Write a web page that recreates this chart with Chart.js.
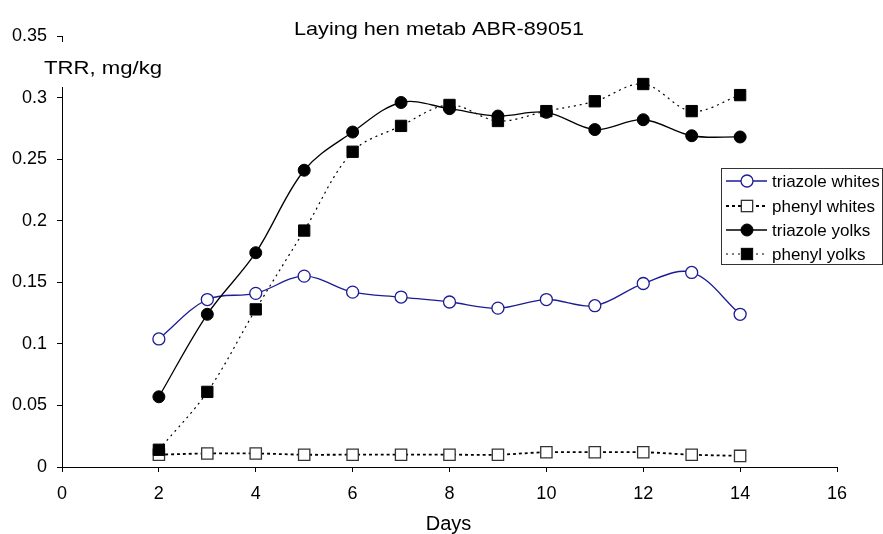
<!DOCTYPE html>
<html>
<head>
<meta charset="utf-8">
<style>
  html, body { margin: 0; padding: 0; background: #fff; }
  canvas { display: block; }
</style>
<script src="https://cdn.jsdelivr.net/npm/chart.js@4.4.1/dist/chart.umd.min.js"></script>
</head>
<body>
<canvas id="henChart" width="883" height="534"></canvas>
<script>
// days sampled
const days = [2, 3, 4, 5, 6, 7, 8, 9, 10, 11, 12, 13, 14];

// TRR, mg/kg
const triazoleWhites = [0.104, 0.136, 0.141, 0.155, 0.142, 0.138, 0.134, 0.129, 0.136, 0.131, 0.149, 0.158, 0.124];
const phenylWhites   = [0.010, 0.011, 0.011, 0.010, 0.010, 0.010, 0.010, 0.010, 0.012, 0.012, 0.012, 0.010, 0.009];
const triazoleYolks  = [0.057, 0.124, 0.174, 0.241, 0.272, 0.296, 0.291, 0.285, 0.288, 0.274, 0.282, 0.269, 0.268];
const phenylYolks    = [0.014, 0.061, 0.128, 0.192, 0.256, 0.277, 0.294, 0.281, 0.289, 0.297, 0.311, 0.289, 0.302];

const seriesNames = ['triazole whites', 'phenyl whites', 'triazole yolks', 'phenyl yolks'];
const xTicks = { min: 0, max: 16, step: 2 };
const yTicks = { min: 0, max: 0.35, step: 0.05 };

const FONT = "'Liberation Sans', Arial, Helvetica, sans-serif";
const NAVY = '#1c1c96';

function toPoints(vals) {
    return days.map((d, i) => ({ x: d, y: vals[i] }));
}

// text a bit wider than the font, like the original
function stretchText(ctx, text, x, y, size, sx, align) {
    ctx.save();
    ctx.font = size + 'px ' + FONT;
    ctx.fillStyle = '#000';
    ctx.textBaseline = 'alphabetic';
    ctx.textAlign = 'left';
    let w = ctx.measureText(text).width * sx;
    let left = align === 'center' ? x - w / 2 : x;
    ctx.translate(left, y);
    ctx.scale(sx, 1);
    ctx.fillText(text, 0, 0);
    ctx.restore();
}

function drawMarker(ctx, ds, x, y) {
    ctx.save();
    ctx.setLineDash([]);
    ctx.lineWidth = ds.pointBorderWidth;
    ctx.strokeStyle = ds.pointBorderColor;
    ctx.fillStyle = ds.pointBackgroundColor;
    if (ds.pointStyle === 'circle') {
        ctx.beginPath();
        ctx.arc(x, y, ds.pointRadius, 0, Math.PI * 2);
        ctx.fill();
        ctx.stroke();
    } else {
        let s = ds.pointRadius / Math.SQRT2;
        ctx.fillRect(x - s, y - s, 2 * s, 2 * s);
        ctx.strokeRect(x - s, y - s, 2 * s, 2 * s);
    }
    ctx.restore();
}

const decorations = {
    id: 'decorations',
    afterDraw(chart) {
        const ctx = chart.ctx;
        const area = chart.chartArea;

        // title
        stretchText(ctx, 'Laying hen metab ABR-89051', 439, 35, 18.5, 1.17, 'center');

        // gap in the y axis behind its title
        ctx.save();
        ctx.fillStyle = '#fff';
        ctx.fillRect(area.left - 3, 42, 7, 45);
        ctx.restore();
        stretchText(ctx, 'TRR, mg/kg', 44, 74, 18.6, 1.19, 'left');

        // x axis title
        stretchText(ctx, 'Days', 448.5, 530, 20, 1.0, 'center');

        // legend
        const bx = 721, by = 168, bw = 161, bh = 96;
        ctx.save();
        ctx.fillStyle = '#fff';
        ctx.fillRect(bx, by, bw, bh);
        ctx.strokeStyle = '#333';
        ctx.lineWidth = 1;
        ctx.strokeRect(bx + 0.5, by + 0.5, bw, bh);
        ctx.restore();

        const rows = [181, 206, 230, 254];
        chart.data.datasets.forEach((ds, i) => {
            let y = rows[i];
            ctx.save();
            ctx.strokeStyle = ds.borderColor;
            ctx.lineWidth = ds.borderWidth;
            ctx.setLineDash(ds.borderDash || []);
            ctx.beginPath();
            ctx.moveTo(726, y);
            ctx.lineTo(767, y);
            ctx.stroke();
            ctx.restore();
            drawMarker(ctx, ds, 747, y);

            ctx.save();
            ctx.font = '17px ' + FONT;
            ctx.fillStyle = '#000';
            ctx.textBaseline = 'middle';
            ctx.fillText(seriesNames[i], 772, y + 1);
            ctx.restore();
        });
    }
};

const ctxHen = document.getElementById('henChart');
new Chart(ctxHen, {
    type: 'line',
    data: {
        datasets: [
            {
                label: seriesNames[0],
                data: toPoints(triazoleWhites),
                borderColor: NAVY,
                borderWidth: 1.3,
                tension: 0.35,
                pointStyle: 'circle',
                pointRadius: 6,
                pointBorderWidth: 1.3,
                pointBorderColor: NAVY,
                pointBackgroundColor: '#fff',
                order: 3
            },
            {
                label: seriesNames[1],
                data: toPoints(phenylWhites),
                borderColor: '#000',
                borderWidth: 1.8,
                borderDash: [3, 3],
                tension: 0.35,
                pointStyle: 'rect',
                pointRadius: 8,
                pointBorderWidth: 1.3,
                pointBorderColor: '#333',
                pointBackgroundColor: '#fff',
                order: 2
            },
            {
                label: seriesNames[2],
                data: toPoints(triazoleYolks),
                borderColor: '#000',
                borderWidth: 1.3,
                tension: 0.35,
                pointStyle: 'circle',
                pointRadius: 6,
                pointBorderWidth: 1,
                pointBorderColor: '#000',
                pointBackgroundColor: '#000',
                order: 1
            },
            {
                label: seriesNames[3],
                data: toPoints(phenylYolks),
                borderColor: '#000',
                borderWidth: 1.2,
                borderDash: [2, 4],
                tension: 0.35,
                pointStyle: 'rect',
                pointRadius: 8,
                pointBorderWidth: 1,
                pointBorderColor: '#000',
                pointBackgroundColor: '#000',
                order: 0
            }
        ]
    },
    options: {
        responsive: false,
        animation: false,
        devicePixelRatio: 1,
        layout: { padding: { top: 36, right: 46, left: 0, bottom: 0 } },
        plugins: {
            legend: { display: false },
            title: { display: false },
            tooltip: { enabled: false }
        },
        scales: {
            x: {
                type: 'linear',
                min: xTicks.min,
                max: xTicks.max,
                ticks: {
                    stepSize: xTicks.step,
                    color: '#000',
                    font: { family: FONT, size: 18 },
                    padding: 11,
                    maxRotation: 0
                },
                grid: { drawOnChartArea: false, drawTicks: true, tickLength: 5, color: '#000' },
                border: { color: '#000', width: 1 },
                afterFit(scale) { scale.height = 67; }
            },
            y: {
                min: yTicks.min,
                max: yTicks.max,
                ticks: {
                    stepSize: yTicks.step,
                    color: '#000',
                    font: { family: FONT, size: 18 },
                    padding: 10,
                    callback: v => String(+v.toFixed(2))
                },
                grid: { drawOnChartArea: false, drawTicks: true, tickLength: 5, color: '#000' },
                border: { color: '#000', width: 1 },
                afterFit(scale) { scale.width = 62; }
            }
        }
    },
    plugins: [decorations]
});
</script>
</body>
</html>
